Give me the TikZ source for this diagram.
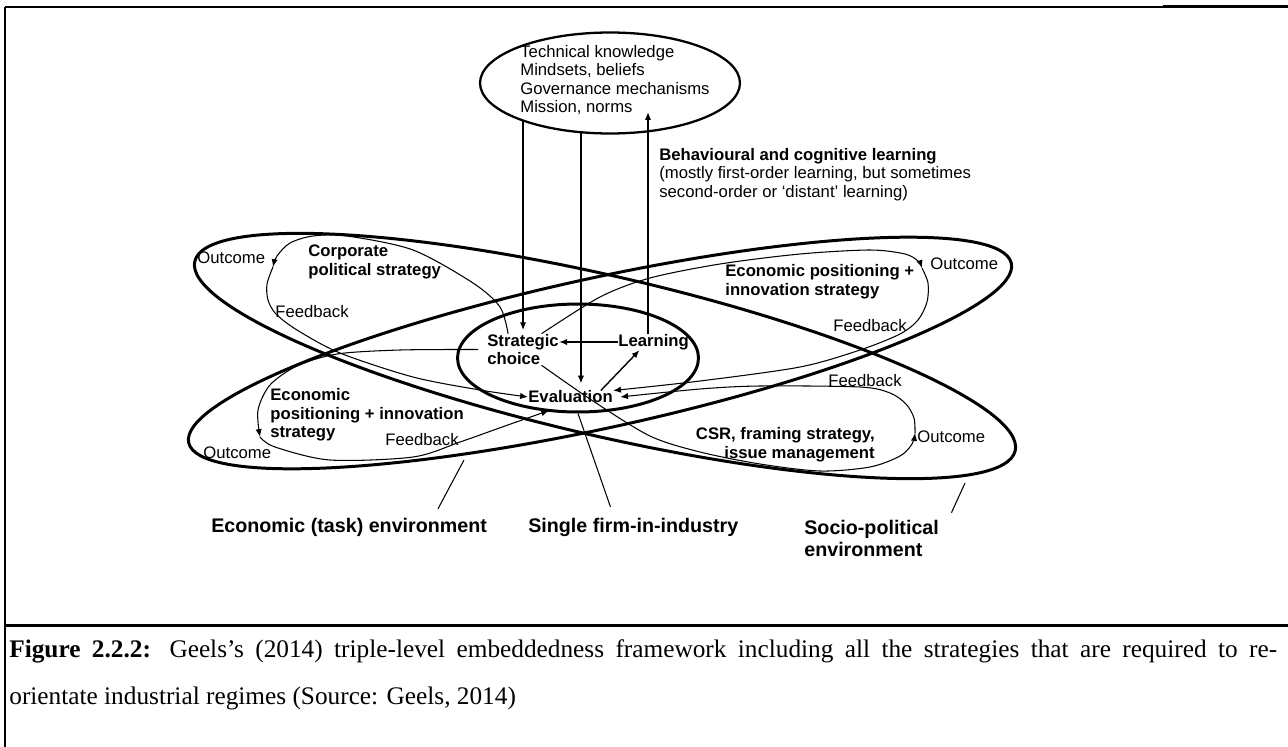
\documentclass[tikz,border=0pt]{standalone}
\usepackage{fontspec}
\setmainfont{Liberation Serif}
\setsansfont{Liberation Sans}
\usetikzlibrary{arrows.meta,shapes.geometric}

\tikzset{
  lbl/.style={font=\sffamily\fontsize{9.5}{10.6}\selectfont, inner sep=0pt, anchor=west, align=left},
  blbl/.style={lbl, font=\sffamily\bfseries\fontsize{9.5}{10.6}\selectfont},
  envlbl/.style={lbl, font=\sffamily\bfseries\fontsize{11.2}{12.8}\selectfont},
  envline/.style={line width=1.7pt},
  loopline/.style={line width=0.6pt},
  arrowed/.style={-{Latex[length=4.5pt,width=3.6pt]}},
  flow/.style={arrowed, line width=0.8pt},
  pointer/.style={line width=0.6pt},
}

\begin{document}
\begin{tikzpicture}[x=0.02cm, y=-0.02cm]
		%%%%% START %%%%%
		\useasboundingbox (0,0) rectangle (1288,747);
		
		\draw[line width=0.85pt] (5,7) -- (1163,7);
		\draw[line width=1.6pt] (1163,6.5) -- (1288,6.5);
		\draw[line width=1pt] (5,7) -- (5,747);
		\draw[line width=1.7pt] (5,625) -- (1288,625);
		
		% the three levels
		\draw[envline, rotate around={-13:(605,356)}] (605,356) ellipse [x radius=421, y radius=80];
		\draw[envline, rotate around={12.3:(600,353)}] (600,353) ellipse [x radius=421, y radius=75];
		\node[draw, ellipse, envline, minimum width=4.82cm, minimum height=2.16cm, inner sep=0pt] (firmell) at (578,358) {};
		\node[draw, ellipse, line width=1.3pt, minimum width=5.2cm, minimum height=2.02cm, inner sep=0pt] (topell) at (610,83) {};
		
		\node[lbl] (regime) at (520,80) {Technical knowledge\\Mindsets, beliefs\\Governance mechanisms\\Mission, norms};
		\node[lbl] (behav) at (659,174.5) {\textbf{Behavioural and cognitive learning}\\(mostly first-order learning, but sometimes\\second-order or ‘distant’ learning)};
		
		\node[blbl] (strat) at (487,349.5) {Strategic\\choice};
		\node[blbl] (learn) at (618,342) {Learning};
		\node[blbl] (eval) at (528,397) {Evaluation};
		
		\node[blbl] (cps) at (308,262) {Corporate\\political strategy};
		\node[lbl] (outUL) at (197,258) {Outcome};
		\node[lbl] (fbUL) at (275,312) {Feedback};
		
		\node[blbl] (epiL) at (270,415) {Economic\\positioning + innovation\\strategy};
		\node[lbl] (fbLL) at (385,440) {Feedback};
		\node[lbl] (outLL) at (203,453) {Outcome};
		
		\node[blbl] (epiR) at (725,281.5) {Economic positioning +\\innovation strategy};
		\node[lbl] (outUR) at (930,264) {Outcome};
		\node[lbl] (fbUR) at (833,326) {Feedback};
		
		\node[lbl] (fbLR) at (828,381) {Feedback};
		\node[blbl, anchor=east, align=right] (csr) at (875,444.5) {CSR, framing strategy,\\issue management};
		\node[lbl] (outLR) at (917,437) {Outcome};
		
		\node[envlbl] (econenv) at (211,527) {Economic (task) environment};
		\node[envlbl] (firm) at (528,527) {Single firm-in-industry};
		\node[envlbl] (socenv) at (804,538.5) {Socio-political\\environment};
		
		% regime <-> firm
		\draw[flow, shorten >=2pt] (strat.north |- topell.203) -- (strat.north);
		\draw[flow, shorten >=4pt] (topell.240) -- (topell.240 |- eval.north);
		\coordinate (normstip) at (648,112);
		\draw[flow] (learn.north -| normstip) -- (normstip);
		\draw[flow] (learn.west) -- (learn.west -| strat.east);
		\draw[flow] ([xshift=-7pt]eval.north east) -- ([xshift=-8pt]learn.south);
		
		% corporate political strategy
		\draw[loopline, arrowed] plot[smooth] coordinates {([xshift=12pt]strat.north west) (500,307) (473,283) (413,250) (347,236) (313,236) (290,243) (277,256) (273,267)};
		\draw[loopline, arrowed] plot[smooth] coordinates {(273,267) (267,284) (268,300) (276,314) (297,330) (340,353) (413,377) (480,390) (eval.west)};
		
		% economic positioning (right)
		\draw[loopline, arrowed] plot[smooth] coordinates {([xshift=-10pt]strat.north east) (600,297) (650,278) (720,264) (800,254) (870,250) (905,254) (918,261) (922,268)};
		\draw[loopline, arrowed] plot[smooth] coordinates {(922,268) (928,283) (927,302) (918,320) (900,334) (860,350) (800,367) (700,381) (eval.north east)};
		
		% CSR, framing
		\draw[loopline, arrowed] plot[smooth] coordinates {([xshift=-10pt]strat.south east) (593,401) (650,436) (700,452) (760,464) (820,471) (870,467) (900,456) (912,444) (915,433)};
		\draw[loopline, arrowed] plot[smooth] coordinates {(915,433) (914,418) (906,404) (890,393) (860,387) (760,386) (700,389) ([xshift=4pt]eval.east)};
		
		% economic positioning (left)
		\draw[loopline, arrowed] plot[smooth] coordinates {([xshift=-5pt]strat.west) (400,350) (337,354) (297,366) (270,385) (258,410) (260,437)};
		\draw[loopline, arrowed] plot[smooth] coordinates {(260,437) (275,447) (330,460) (413,457) (460,442) (505,426) ([xshift=12pt,yshift=-4pt]eval.south west)};
		
		% labels of the levels
		\coordinate (econtip) at (464,460);
		\coordinate (soctip) at (965,483);
		\draw[pointer] ([xshift=-28pt,yshift=5pt]econenv.north east) -- (econtip);
		\draw[pointer] ([xshift=-13pt,yshift=6pt]firm.north) -- (firmell.south);
		\draw[pointer] ([xshift=7pt,yshift=4pt]socenv.north east) -- (soctip);
		
		% caption
		\node[anchor=west, inner sep=0pt, font=\fontsize{14.4}{26}\selectfont] (capA) at (9,651) {\makebox[25.36cm][s]{\textbf{Figure 2.2.2:} Geels’s (2014) triple-level embeddedness framework including all the strategies that are required to re-}};
		\node[anchor=west, inner sep=0pt, font=\fontsize{14.4}{26}\selectfont] (capB) at (9,698) {orientate industrial regimes (Source: Geels, 2014)};
		
		%%%%% END %%%%%
\end{tikzpicture}
\end{document}
